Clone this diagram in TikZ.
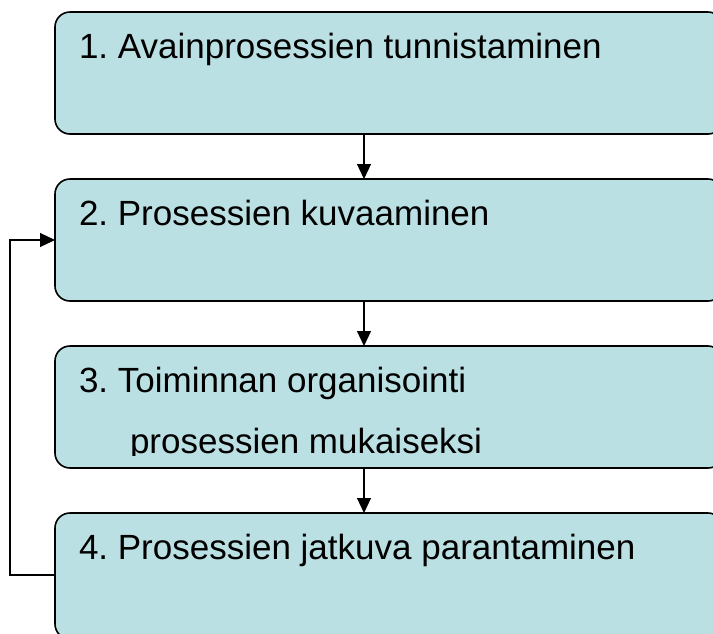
\documentclass[tikz,border=0pt]{standalone}
\usepackage{fontspec}
\setmainfont{Liberation Sans}
\usetikzlibrary{arrows.meta}
\definecolor{boxfill}{HTML}{BBE0E3}
\frenchspacing
\begin{document}
\begin{tikzpicture}[x=1pt,y=-1pt,
  stepbox/.style={draw=black, line width=1.6pt, fill=boxfill,
    rounded corners=15pt, minimum width=668pt, minimum height=122pt,
    inner sep=0pt, outer sep=0pt},
  lbl/.style={anchor=base west, inner sep=0pt, outer sep=0pt,
    font=\fontsize{35}{42}\selectfont},
  conn/.style={draw=black, line width=1.2pt,
    -{Triangle[length=15pt,width=14pt]}}]
  \path[use as bounding box] (0,0) rectangle (713,633);
  \clip (0,0) rectangle (713,633);

  % the four process steps
  \node[stepbox] (b1) at (389,73) {};
  \node[stepbox] (b2) at (389,240) {};
  \node[stepbox] (b3) at (389,407) {};
  \node[stepbox, minimum height=126pt] (b4) at (389,576) {};

  \node[lbl] (t1) at (79,58) {1. Avainprosessien tunnistaminen};
  \node[lbl] (t2) at (79,225) {2. Prosessien kuvaaminen};
  \node[lbl] (t3) at (79,392) {3. Toiminnan organisointi};
  \begin{scope}
    \clip (55,346) rectangle (720,455.5);
    \node[lbl] (t3b) at (130,453) {prosessien mukaiseksi};
  \end{scope}
  \node[lbl] (t4) at (79,559) {4. Prosessien jatkuva parantaminen};

  % flow between the steps
  \coordinate (ax) at (364,0);
  \coordinate (loopx) at (10,0);
  \coordinate (loopy) at (0,575);
  \draw[conn] (b1.south -| ax) -- (b2.north -| ax);
  \draw[conn] (b2.south -| ax) -- (b3.north -| ax);
  \draw[conn] (b3.south -| ax) -- (b4.north -| ax);

  % feedback loop from step 4 back to step 2
  \draw[conn] (b4.west |- loopy) -- (loopx |- loopy) |- (b2.west);
\end{tikzpicture}
\end{document}
